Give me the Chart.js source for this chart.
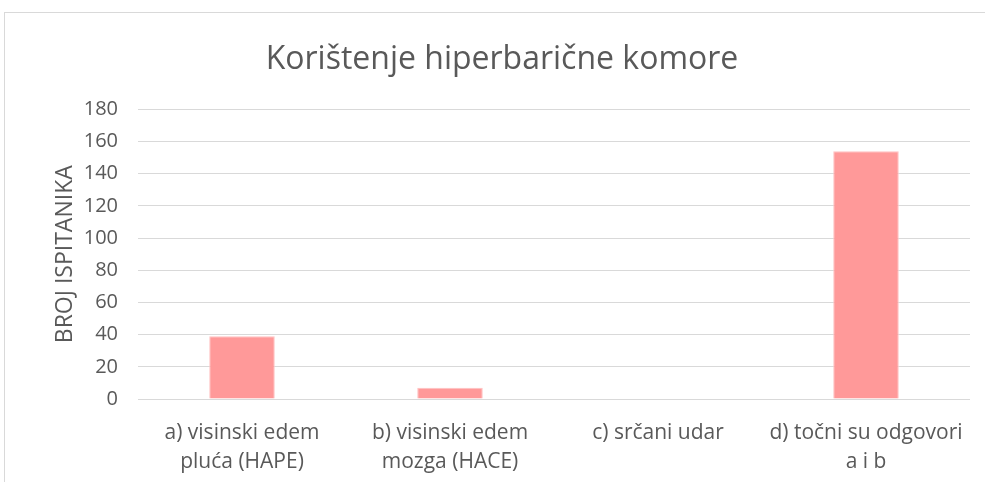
<!DOCTYPE html>
<html>
<head>
<meta charset="utf-8">
<script src="https://cdn.jsdelivr.net/npm/chart.js@4"></script>
<style>
  html, body { margin: 0; padding: 0; background: #fff; }
  #wrap { width: 985px; height: 482px; position: relative; }
</style>
</head>
<body>
<div id="wrap"><canvas id="grafikon"></canvas></div>
<script>
const naslov = "Korištenje hiperbarične komore";
const kategorije = [
    ["a) visinski edem", "pluća (HAPE)"],
    ["b) visinski edem", "mozga (HACE)"],
    "c) srčani udar",
    ["d) točni su odgovori", "a i b"]
];
const brojIspitanika = [39, 7, 0, 154];
const oznakaOsi = "BROJ ISPITANIKA";

const font = "'Open Sans', 'Liberation Sans', sans-serif";

// okvir grafikona (kao u originalu)
const okvir = {
    id: "okvir",
    beforeDraw(chart) {
        const c = chart.ctx;
        c.save();
        c.fillStyle = "#fff";
        c.fillRect(0, 0, chart.width, chart.height);
        c.strokeStyle = "#d9d9d9";
        c.lineWidth = 1;
        c.strokeRect(4.5, 12.5, 1100, 600);
        c.restore();
    }
};

const ctx = document.getElementById("grafikon").getContext("2d");
new Chart(ctx, {
    type: "bar",
    data: {
        labels: kategorije,
        datasets: [{
            label: oznakaOsi,
            data: brojIspitanika,
            backgroundColor: "#ff9999",
            borderColor: "#ffc2c2",
            borderWidth: 1,
            categoryPercentage: 0.5,
            barPercentage: 0.63
        }]
    },
    options: {
        responsive: true,
        maintainAspectRatio: false,
        animation: false,
        layout: { padding: { left: 34, right: 15, top: 0, bottom: 0 } },
        plugins: {
            legend: { display: false },
            tooltip: { enabled: false },
            title: {
                display: true,
                text: naslov,
                color: "#595959",
                font: { family: font, size: 32, weight: "normal" },
                padding: { top: 41, bottom: 30 }
            }
        },
        scales: {
            x: {
                grid: { display: false, drawTicks: false },
                border: { display: false },
                ticks: {
                    color: "#595959",
                    font: { family: font, size: 21, lineHeight: 1.4 },
                    padding: 19,
                    maxRotation: 0
                },
                afterFit(scale) { scale.height = 83; }
            },
            y: {
                min: 0,
                max: 180,
                ticks: {
                    stepSize: 20,
                    color: "#595959",
                    font: { family: font, size: 20 },
                    padding: 20
                },
                grid: { color: "#d9d9d9", lineWidth: 1, drawTicks: false },
                border: { display: false },
                title: {
                    display: true,
                    text: oznakaOsi,
                    color: "#595959",
                    font: { family: font, size: 23, weight: "normal" },
                    padding: { top: 18, bottom: 0 }
                },
                afterFit(scale) { scale.width = 104; }
            }
        }
    },
    plugins: [okvir]
});
</script>
</body>
</html>
